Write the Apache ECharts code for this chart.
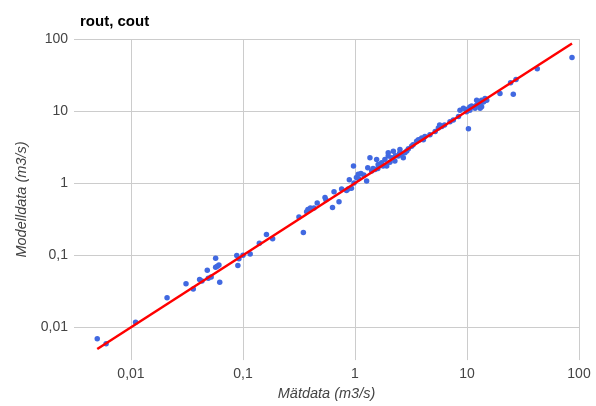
<!DOCTYPE html>
<html>
<head>
<meta charset="utf-8">
<script src="https://cdn.jsdelivr.net/npm/echarts@6/dist/echarts.min.js"></script>
<style>html,body{margin:0;padding:0;background:#fff}#c{width:596px;height:406px}</style>
</head>
<body>
<div id="c"></div>
<script>
const chartTitle = 'rout, cout';
const xAxisTitle = 'Mätdata (m3/s)';
const yAxisTitle = 'Modelldata (m3/s)';
const tickExponents = [-2, -1, 0, 1, 2];
const tickLabels = ['0,01', '0,1', '1', '10', '100'];
const axisMinX = 0.0031, axisMinY = 0.0035, axisMax = 100;

const measured = [
  0.0050, 0.0060, 0.011, 0.021, 0.031, 0.036, 0.041, 0.043, 0.048, 0.049,
  0.052, 0.057, 0.057, 0.059, 0.061, 0.062, 0.088, 0.092, 0.090, 0.10,
  0.116, 0.14, 0.162, 0.184, 0.316, 0.346, 0.37, 0.38, 0.40, 0.43,
  0.46, 0.54, 0.55, 0.63, 0.65, 0.72, 0.76, 0.84, 0.89, 0.87,
  0.93, 0.97, 1.03, 1.07, 1.13, 1.27, 1.30, 1.36, 1.41, 1.51,
  1.61, 1.56, 1.73, 1.85, 1.92, 1.98, 2.13, 2.20, 2.27, 2.44,
  2.61, 2.70, 2.52, 2.79, 3.0, 3.2, 3.55, 3.8, 4.08, 1.98,
  1.78, 3.68, 3.94, 4.21, 4.67, 5.2, 5.55, 5.95, 6.3, 5.7,
  7.05, 7.55, 8.4, 8.66, 9.3, 10.3, 9.9, 10.6, 11.4, 12.2,
  13.1, 14.0, 15.0, 13.1, 12.2, 13.5, 10.6, 12.6, 13.5, 14.5,
  11.8, 13.1, 19.7, 25.9, 24.5, 27.4, 42.4, 86.6,
  1.2, 1.6, 2.3, 2.9, 1.45, 2.05, 3.3, 0.98, 1.08, 2.5,
  11.0, 12.8, 14.3, 10.1
];
const modelled = [
  0.0069, 0.0059, 0.0117, 0.0256, 0.040, 0.034, 0.046, 0.044, 0.062, 0.048,
  0.050, 0.091, 0.068, 0.070, 0.073, 0.042, 0.099, 0.089, 0.072, 0.10,
  0.104, 0.147, 0.194, 0.169, 0.339, 0.206, 0.40, 0.43, 0.45, 0.45,
  0.53, 0.63, 0.59, 0.46, 0.76, 0.55, 0.83, 0.79, 1.11, 0.83,
  0.85, 1.73, 1.2, 1.33, 1.36, 1.07, 1.64, 2.25, 1.47, 1.55,
  1.82, 2.13, 1.92, 2.13, 1.73, 2.37, 2.25, 2.77, 2.02, 2.37,
  2.55, 2.25, 2.92, 2.63, 3.0, 3.24, 3.8, 4.0, 4.0, 2.63,
  1.73, 4.0, 4.22, 4.45, 4.7, 5.2, 5.8, 6.1, 6.4, 6.4,
  7.1, 7.5, 8.4, 10.3, 10.9, 5.7, 9.8, 10.3, 11.4, 12.1,
  12.7, 13.4, 14.1, 10.9, 14.1, 11.5, 11.4, 13.4, 14.1, 14.9,
  10.9, 11.7, 17.5, 17.1, 24.7, 27.4, 38.5, 55.5,
  1.3, 1.6, 2.4, 2.8, 1.6, 1.95, 3.4, 1.0, 1.15, 2.6,
  11.8, 12.3, 13.8, 10.6
];
const fitLineX = [0.005, 86.6];
const fitLineY = [0.005, 86.6];

const labelFor = v => {
  const e = Math.round(Math.log10(v));
  if (Math.abs(Math.log10(v) - e) > 1e-6) return '';
  const i = tickExponents.indexOf(e);
  return i >= 0 ? tickLabels[i] : '';
};

const font = 'Liberation Sans, Arial, sans-serif';
const chart = echarts.init(document.getElementById('c'), null, {renderer: 'canvas'});
chart.setOption({
  animation: false,
  backgroundColor: '#fff',
  title: {
    text: chartTitle, left: 75, top: 9,
    textStyle: {fontFamily: font, fontSize: 15, fontWeight: 'bold', color: '#000'}
  },
  grid: {left: 74, right: 17, top: 39, bottom: 41, containLabel: false},
  xAxis: {
    type: 'log', logBase: 10, min: axisMinX, max: axisMax,
    name: xAxisTitle, nameLocation: 'middle', nameGap: 22,
    nameTextStyle: {fontFamily: font, fontSize: 14.5, fontStyle: 'italic', color: '#444'},
    axisLine: {show: false}, axisTick: {show: false},
    axisLabel: {formatter: labelFor, fontFamily: font, fontSize: 14, color: '#444', margin: 7, showMinLabel: false},
    splitLine: {show: true, showMinLine: false, lineStyle: {color: '#cccccc', width: 1}},
    minorSplitLine: {show: false}
  },
  yAxis: {
    type: 'log', logBase: 10, min: axisMinY, max: axisMax,
    name: yAxisTitle, nameLocation: 'middle', nameGap: 40, nameRotate: 90,
    nameTextStyle: {fontFamily: font, fontSize: 14.5, fontStyle: 'italic', color: '#444'},
    axisLine: {show: false}, axisTick: {show: false},
    axisLabel: {formatter: labelFor, fontFamily: font, fontSize: 14, color: '#444', margin: 6, showMinLabel: false},
    splitLine: {show: true, showMinLine: false, lineStyle: {color: '#cccccc', width: 1}}
  },
  series: [
    {
      type: 'scatter', symbolSize: 5.5,
      itemStyle: {color: '#4169E1', opacity: 1},
      data: measured.map((x, i) => [x, modelled[i]]),
      z: 2
    },
    {
      type: 'line', symbol: 'none',
      lineStyle: {color: '#ff0000', width: 2.5},
      data: fitLineX.map((x, i) => [x, fitLineY[i]]),
      z: 3
    }
  ]
});
</script>
</body>
</html>
